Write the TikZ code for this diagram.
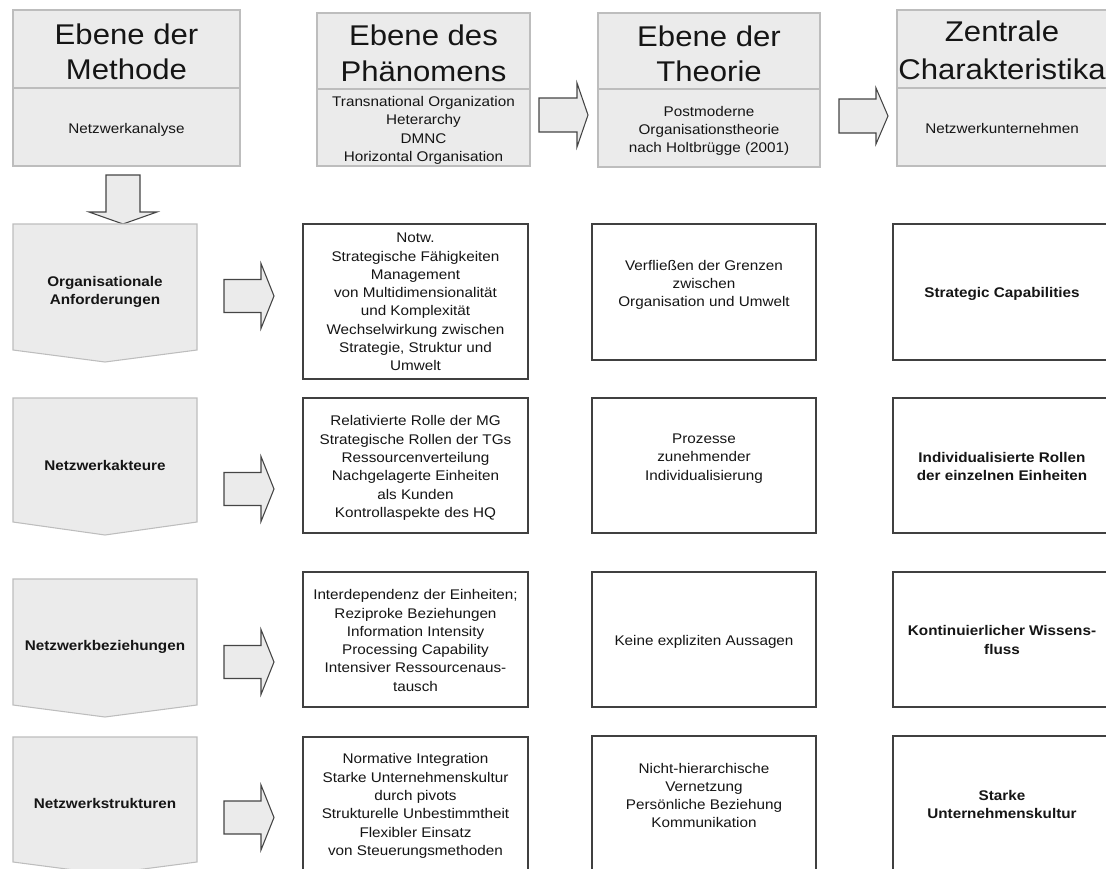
\documentclass[tikz,border=0pt]{standalone}
\usepackage{fontspec}
\setmainfont{Liberation Sans}[FakeStretch=1.09]
\definecolor{panel}{HTML}{EBEBEB}
\definecolor{panelrule}{HTML}{BDBDBD}
\definecolor{cellrule}{HTML}{404040}
\definecolor{arrowrule}{HTML}{454545}
\definecolor{ink}{HTML}{151515}
\tikzset{
  headbox/.style={draw=panelrule, fill=panel, line width=0.8pt},
  headrule/.style={draw=panelrule, line width=1.2pt},
  lanebox/.style={draw=panelrule, fill=panel, line width=0.8pt, line join=miter},
  cellbox/.style={draw=cellrule, fill=white, line width=1.1pt},
  blockarrow/.style={draw=arrowrule, fill=panel, line width=0.8pt, line join=miter},
  titletext/.style={text=ink, align=center, inner sep=0pt,
    font=\fontsize{21.4}{26.3}\selectfont},
  bodytext/.style={text=ink, align=center, inner sep=0pt,
    font=\fontsize{10.5}{13.7}\selectfont},
  boldtext/.style={bodytext, font=\fontsize{10.5}{13.7}\selectfont\bfseries},
}
% block arrow pointing right: shaft start, head base, tip, centre y, half shaft, half head
\newcommand\blockright[6]{%
  \draw[blockarrow] (#1,#4-#5) -- (#2,#4-#5) -- (#2,#4-#6) -- (#3,#4)
    -- (#2,#4+#6) -- (#2,#4+#5) -- (#1,#4+#5) -- cycle;}
% grey lane shape with a pointed bottom: top, side end, tip
\newcommand\lanepent[3]{%
  \draw[lanebox] (13,#1) -- (197,#1) -- (197,#2) -- (105,#3) -- (13,#2) -- cycle;}
\begin{document}
\begin{tikzpicture}[x=0.75pt, y=-0.75pt]
\useasboundingbox (0,0) rectangle (1106,868);
\clip (0,0) rectangle (1106,868);

% ---------- header row ----------
\draw[headbox] (13,10) rectangle (240,166);
\draw[headrule] (13,88) -- (240,88);
\node[titletext] (methodT) at (126.5,52.1) {Ebene der\\Methode};
\node[bodytext] (methodS) at (126.5,129.5) {Netzwerkanalyse};

\draw[headbox] (317,13) rectangle (530,166);
\draw[headrule] (317,89) -- (530,89);
\node[titletext] (phenT) at (423.5,53.3) {Ebene des\\Phänomens};
\node[bodytext] (phenS) at (423.5,130.5)
  {Transnational Organization\\Heterarchy\\DMNC\\Horizontal Organisation};

\draw[headbox] (598,13) rectangle (820,167);
\draw[headrule] (598,89) -- (820,89);
\node[titletext] (theoT) at (709,53.5) {Ebene der\\Theorie};
\node[bodytext] (theoS) at (709,131)
  {Postmoderne\\Organisationstheorie\\nach Holtbrügge (2001)};

\draw[headbox] (897,10) rectangle (1112,166);
\draw[headrule] (897,88) -- (1112,88);
\node[titletext] (charT) at (1002,50.5) {Zentrale\\[2.3pt]Charakteristika};
\node[bodytext] (charS) at (1002,128.5) {Netzwerkunternehmen};

\blockright{539}{577}{588}{115}{17}{32}
\blockright{839}{876}{888}{116}{17}{28}

% down arrow below the method header
\draw[blockarrow] (106,175) -- (140,175) -- (140,212) -- (157,212)
  -- (123,224) -- (89,212) -- (106,212) -- cycle;

% ---------- method lanes ----------
\lanepent{224}{350}{362}
\lanepent{398}{522}{535}
\lanepent{579}{705}{717}
\lanepent{737}{862}{874}
\node[boldtext] (laneA) at (105,292) {Organisationale\\Anforderungen};
\node[boldtext] (laneB) at (105,465.5) {Netzwerkakteure};
\node[boldtext] (laneC) at (105,647) {Netzwerkbeziehungen};
\node[boldtext] (laneD) at (105,803.5) {Netzwerkstrukturen};

\blockright{224}{261}{274}{296}{16.5}{32.5}
\blockright{224}{261}{274}{489}{16.5}{32.5}
\blockright{224}{261}{274}{662}{16.5}{32.5}
\blockright{224}{261}{274}{817.5}{16.5}{32.5}

% ---------- phenomenon column ----------
\draw[cellbox] (303,224) rectangle (528,379);
\draw[cellbox] (303,398) rectangle (528,533);
\draw[cellbox] (303,572) rectangle (528,707);
\draw[cellbox] (303,737) rectangle (528,873);
\node[bodytext] (pA) at (415.5,302) {Notw.\\Strategische Fähigkeiten\\Management\\von Multidimensionalität\\und Komplexität\\Wechselwirkung zwischen\\Strategie, Struktur und\\Umwelt};
\node[bodytext] (pB) at (415.5,468) {Relativierte Rolle der MG\\Strategische Rollen der TGs\\Ressourcenverteilung\\Nachgelagerte Einheiten\\als Kunden\\Kontrollaspekte des HQ};
\node[bodytext] (pC) at (415.5,640.5) {Interdependenz der Einheiten;\\Reziproke Beziehungen\\Information Intensity\\Processing Capability\\Intensiver Ressourcenaus-\\tausch};
\node[bodytext] (pD) at (415.5,806) {Normative Integration\\Starke Unternehmenskultur\\durch pivots\\Strukturelle Unbestimmtheit\\Flexibler Einsatz\\von Steuerungsmethoden};

% ---------- theory column ----------
\draw[cellbox] (592,224) rectangle (816,360);
\draw[cellbox] (592,398) rectangle (816,533);
\draw[cellbox] (592,572) rectangle (816,707);
\draw[cellbox] (592,736) rectangle (816,873);
\node[bodytext] (tA) at (704,285) {Verfließen der Grenzen\\zwischen\\Organisation und Umwelt};
\node[bodytext] (tB) at (704,458.5) {Prozesse\\zunehmender\\Individualisierung};
\node[bodytext] (tC) at (704,642) {Keine expliziten Aussagen};
\node[bodytext] (tD) at (704,795.5) {Nicht-hierarchische\\Vernetzung\\Persönliche Beziehung\\Kommunikation};

% ---------- characteristics column ----------
\draw[cellbox] (893,224) rectangle (1112,360);
\draw[cellbox] (893,398) rectangle (1112,533);
\draw[cellbox] (893,572) rectangle (1112,707);
\draw[cellbox] (893,736) rectangle (1112,873);
\node[boldtext] (cA) at (1002,294) {Strategic Capabilities};
\node[boldtext] (cB) at (1002,466.5) {Individualisierte Rollen\\der einzelnen Einheiten};
\node[boldtext] (cC) at (1002,640) {Kontinuierlicher Wissens-\\fluss};
\node[boldtext] (cD) at (1002,804.5) {Starke\\Unternehmenskultur};
\end{tikzpicture}
\end{document}
